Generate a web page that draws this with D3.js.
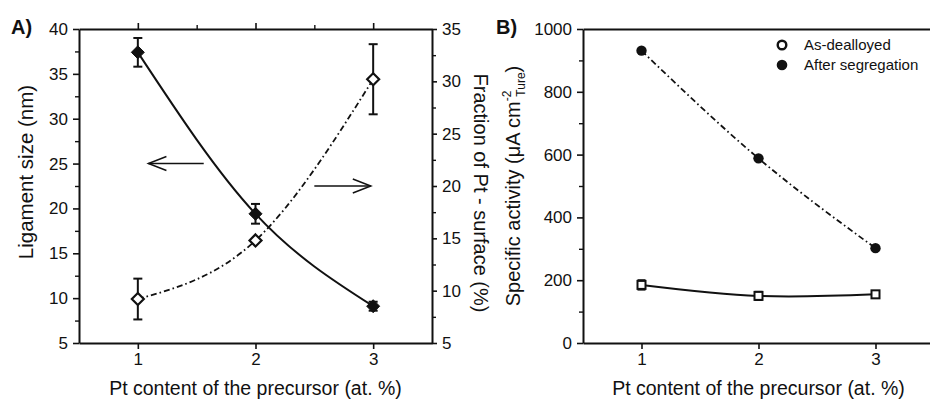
<!DOCTYPE html>
<html>
<head>
<meta charset="utf-8">
<script src="https://cdn.jsdelivr.net/npm/d3@7"></script>
<style>
  html, body { margin: 0; padding: 0; background: #fff; }
  svg { display: block; font-family: Arial, "Liberation Sans", Helvetica, sans-serif; }
</style>
</head>
<body>
<svg id="chart" width="930" height="401"></svg>
<script>
// ---------------- data ----------------
const ptContent = [1, 2, 3];
const xTickLabels = ["1", "2", "3"];

// Panel A
const ligamentSize = [37.4, 19.4, 9.1];         // nm, left axis (filled diamonds)
const ligamentErr = [1.6, 1.1, 0.5];
const ptSurfaceFraction = [9.2, 14.8, 30.2];    // %, right axis (open diamonds)
const ptSurfaceErr = [1.95, 0, 3.35];
const leftTicksA = [5, 10, 15, 20, 25, 30, 35, 40];
const leftMinorA = [7.5, 12.5, 17.5, 22.5, 27.5, 32.5, 37.5];
const rightTicksA = [5, 10, 15, 20, 25, 30, 35];
const rightMinorA = [7.5, 12.5, 17.5, 22.5, 27.5, 32.5];
const topMinorA = [1.5, 2.5];

// Panel B
const activityAsDealloyed = [185, 150, 155];
const activityAsDealloyedErr = [15, 13, 8];
const activitySegregated = [931, 588, 302];
const ticksB = [0, 200, 400, 600, 800, 1000];
const minorB = [100, 300, 500, 700, 900];
const legendLabels = ["As-dealloyed", "After segregation"];

// ---------------- drawing ----------------
const svg = d3.select("#chart");
const ink = "#111";
const dashDot = "6,3,1.6,3";
const FONT = "Arial, 'Liberation Sans', sans-serif";
const TICK_FS = 17;

const xA = d3.scaleLinear().domain([0.5, 3.5]).range([79, 432]);
const yL = d3.scaleLinear().domain([5, 40]).range([343, 29]);
const yR = d3.scaleLinear().domain([5, 35]).range([343, 29]);

const xB = d3.scaleLinear().domain([0.5, 3.5]).range([583, 934]);
const yB = d3.scaleLinear().domain([0, 1000]).range([343, 29]);

function styleAxis(g) {
  g.attr("font-size", TICK_FS).attr("font-family", FONT);
  g.select(".domain").attr("stroke", ink).attr("stroke-width", 2);
  g.selectAll(".tick line").attr("stroke", ink).attr("stroke-width", 1.6);
  g.selectAll(".tick text").attr("fill", ink).style("font-size", TICK_FS + "px")
    .style("font-family", FONT);
}
function minorAxis(axisFn, scale, vals, size, transform) {
  const g = svg.append("g").attr("transform", transform)
    .call(axisFn(scale).tickValues(vals).tickSize(size).tickSizeOuter(0).tickFormat(""));
  g.select(".domain").remove();
  g.selectAll(".tick line").attr("stroke", ink).attr("stroke-width", 1.4);
}

// ===== Panel A axes =====
let g = svg.append("g").attr("transform", `translate(0,${yL(5)})`)
  .call(d3.axisBottom(xA).tickValues(ptContent).tickFormat((d, i) => xTickLabels[i])
    .tickSize(6).tickSizeOuter(0).tickPadding(4));
styleAxis(g);
g = svg.append("g").attr("transform", `translate(0,${yL(40)})`)
  .call(d3.axisTop(xA).tickValues(ptContent).tickFormat("").tickSize(6).tickSizeOuter(0));
styleAxis(g);
minorAxis(d3.axisTop, xA, topMinorA, 4, `translate(0,${yL(40)})`);
g = svg.append("g").attr("transform", `translate(${xA(0.5)},0)`)
  .call(d3.axisLeft(yL).tickValues(leftTicksA).tickSize(6).tickSizeOuter(0).tickPadding(5));
styleAxis(g);
minorAxis(d3.axisLeft, yL, leftMinorA, 4, `translate(${xA(0.5)},0)`);
g = svg.append("g").attr("transform", `translate(${xA(3.5)},0)`)
  .call(d3.axisRight(yR).tickValues(rightTicksA).tickSize(5).tickSizeOuter(0).tickPadding(5));
styleAxis(g);
minorAxis(d3.axisRight, yR, rightMinorA, 4, `translate(${xA(3.5)},0)`);

// Panel A curves
const lineLig = d3.line().x((d, i) => xA(ptContent[i])).y(d => yL(d)).curve(d3.curveNatural);
svg.append("path").attr("d", lineLig(ligamentSize)).attr("fill", "none")
  .attr("stroke", ink).attr("stroke-width", 2);
const lineFrac = d3.line().x((d, i) => xA(ptContent[i])).y(d => yR(d)).curve(d3.curveMonotoneX);
svg.append("path").attr("d", lineFrac(ptSurfaceFraction)).attr("fill", "none")
  .attr("stroke", ink).attr("stroke-width", 1.8).attr("stroke-dasharray", dashDot);

function errorBars(xs, ys, errs, xScale, yScale, capW) {
  ys.forEach((v, i) => {
    if (!errs[i]) return;
    const x = xScale(xs[i]);
    const y1 = yScale(v + errs[i]), y2 = yScale(v - errs[i]);
    svg.append("line").attr("x1", x).attr("x2", x).attr("y1", y1).attr("y2", y2)
      .attr("stroke", ink).attr("stroke-width", 2);
    [y1, y2].forEach(yy => svg.append("line").attr("x1", x - capW / 2).attr("x2", x + capW / 2)
      .attr("y1", yy).attr("y2", yy).attr("stroke", ink).attr("stroke-width", 2));
  });
}
errorBars(ptContent, ligamentSize, ligamentErr, xA, yL, 9);
errorBars(ptContent, ptSurfaceFraction, ptSurfaceErr, xA, yR, 9);

function diamondPath(r) { return `M0,${-r}L${r},0L0,${r}L${-r},0Z`; }
ligamentSize.forEach((v, i) => {
  svg.append("path").attr("d", diamondPath(6.5))
    .attr("transform", `translate(${xA(ptContent[i])},${yL(v)})`)
    .attr("fill", ink).attr("stroke", ink).attr("stroke-width", 1);
});
ptSurfaceFraction.forEach((v, i) => {
  svg.append("path").attr("d", diamondPath(6))
    .attr("transform", `translate(${xA(ptContent[i])},${yR(v)})`)
    .attr("fill", "#fff").attr("stroke", ink).attr("stroke-width", 2.2);
});

// arrows
function arrow(x1, x2, y) {
  svg.append("line").attr("x1", x1).attr("x2", x2).attr("y1", y).attr("y2", y)
    .attr("stroke", ink).attr("stroke-width", 1.5);
  const dir = x2 > x1 ? -1 : 1;
  svg.append("path").attr("d", `M${x2 + dir * 18},${y - 7}L${x2},${y}L${x2 + dir * 18},${y + 7}`)
    .attr("fill", "none").attr("stroke", ink).attr("stroke-width", 1.5);
}
arrow(xA(1.56), xA(1.09), yL(25));
arrow(xA(2.5), xA(2.98), yR(20));

// Panel A text
svg.append("text").attr("x", 11).attr("y", 34).text("A)")
  .style("font-size", "20px").style("font-weight", "bold").attr("fill", ink);
svg.append("text").attr("transform", `translate(33,172) rotate(-90)`)
  .attr("text-anchor", "middle").style("font-size", "20.5px").attr("fill", ink)
  .text("Ligament size (nm)");
svg.append("text").attr("transform", `translate(474,193) rotate(90)`)
  .attr("text-anchor", "middle").style("font-size", "20px").attr("fill", ink)
  .text("Fraction of Pt - surface (%)");
svg.append("text").attr("x", xA(2)).attr("y", 395).attr("text-anchor", "middle")
  .style("font-size", "19.5px").attr("fill", ink).text("Pt content of the precursor (at. %)");

// ===== Panel B axes =====
g = svg.append("g").attr("transform", `translate(0,${yB(0)})`)
  .call(d3.axisBottom(xB).tickValues(ptContent).tickFormat((d, i) => xTickLabels[i])
    .tickSize(6).tickSizeOuter(0).tickPadding(4));
styleAxis(g);
g = svg.append("g").attr("transform", `translate(0,${yB(1000)})`)
  .call(d3.axisTop(xB).tickValues([]).tickSizeOuter(0));
styleAxis(g);
g = svg.append("g").attr("transform", `translate(${xB(0.5)},0)`)
  .call(d3.axisLeft(yB).tickValues(ticksB).tickFormat(d3.format("d"))
    .tickSize(6).tickSizeOuter(0).tickPadding(5));
styleAxis(g);
minorAxis(d3.axisLeft, yB, minorB, 4, `translate(${xB(0.5)},0)`);
g = svg.append("g").attr("transform", `translate(${xB(3.5)},0)`)
  .call(d3.axisRight(yB).tickValues([]).tickSizeOuter(0));
styleAxis(g);

// Panel B curves
const lineSeg = d3.line().x((d, i) => xB(ptContent[i])).y(d => yB(d)).curve(d3.curveNatural);
svg.append("path").attr("d", lineSeg(activitySegregated)).attr("fill", "none")
  .attr("stroke", ink).attr("stroke-width", 1.8).attr("stroke-dasharray", dashDot);
svg.append("path").attr("d", lineSeg(activityAsDealloyed)).attr("fill", "none")
  .attr("stroke", ink).attr("stroke-width", 2);

errorBars(ptContent, activityAsDealloyed, activityAsDealloyedErr, xB, yB, 8);
activityAsDealloyed.forEach((v, i) => {
  svg.append("rect").attr("x", xB(ptContent[i]) - 4).attr("y", yB(v) - 4)
    .attr("width", 8).attr("height", 8)
    .attr("fill", "#fff").attr("stroke", ink).attr("stroke-width", 2);
});
activitySegregated.forEach((v, i) => {
  svg.append("circle").attr("cx", xB(ptContent[i])).attr("cy", yB(v)).attr("r", 5.2)
    .attr("fill", ink);
});

// legend
svg.append("circle").attr("cx", 782).attr("cy", 45).attr("r", 4.3)
  .attr("fill", "#fff").attr("stroke", ink).attr("stroke-width", 2.4);
svg.append("circle").attr("cx", 782).attr("cy", 65).attr("r", 5.3).attr("fill", ink);
legendLabels.forEach((t, i) => {
  svg.append("text").attr("x", 804).attr("y", 50 + i * 20).text(t)
    .style("font-size", "15px").attr("fill", ink);
});

// Panel B text
svg.append("text").attr("x", 496).attr("y", 34).text("B)")
  .style("font-size", "20px").style("font-weight", "bold").attr("fill", ink);
const lab = svg.append("text").attr("transform", `translate(520,186) rotate(-90)`)
  .attr("text-anchor", "middle").style("font-size", "20px").attr("fill", ink);
lab.append("tspan").text("Specific activity (\u03BCA cm");
lab.append("tspan").text("-2").style("font-size", "12px").attr("dy", -9);
lab.append("tspan").text("Ture").style("font-size", "12px").attr("dx", -6).attr("dy", 14);
lab.append("tspan").text(")").attr("dy", -5);
svg.append("text").attr("x", xB(2)).attr("y", 395).attr("text-anchor", "middle")
  .style("font-size", "19.5px").attr("fill", ink).text("Pt content of the precursor (at. %)");
</script>
</body>
</html>
